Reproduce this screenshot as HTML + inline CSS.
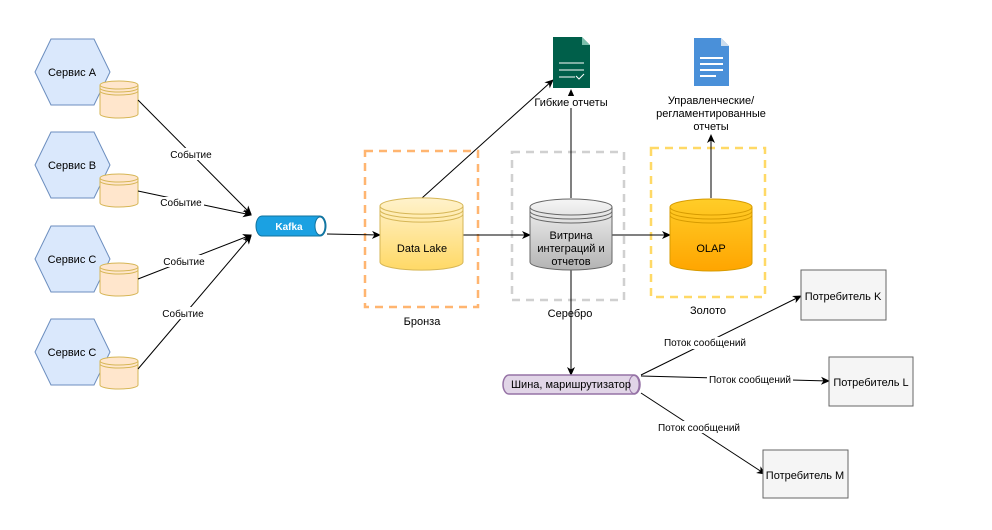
<!DOCTYPE html>
<html><head><meta charset="utf-8"><style>
body{margin:0;background:#fff}
svg{display:block;font-family:"Liberation Sans","Noto Sans CJK SC",sans-serif}
</style></head><body>
<svg width="992" height="530" viewBox="0 0 992 530" xmlns="http://www.w3.org/2000/svg">
<defs>
<marker id="ar" markerWidth="10" markerHeight="10" refX="8" refY="5" orient="auto" markerUnits="userSpaceOnUse"><path d="M0,1 L9,5 L0,9 L2.5,5 Z" fill="#000"/></marker>
<linearGradient id="gy" x1="0" y1="0" x2="0" y2="1"><stop offset="0" stop-color="#fff2cc"/><stop offset="1" stop-color="#ffd966"/></linearGradient>
<linearGradient id="gg" x1="0" y1="0" x2="0" y2="1"><stop offset="0" stop-color="#f5f5f5"/><stop offset="1" stop-color="#b3b3b3"/></linearGradient>
<linearGradient id="go" x1="0" y1="0" x2="0" y2="1"><stop offset="0" stop-color="#ffcd28"/><stop offset="1" stop-color="#ffa500"/></linearGradient>
</defs>
<g font-size="11" text-anchor="middle">
<!-- hexagons -->
<g fill="#dae8fc" stroke="#6c8ebf">
<polygon points="35,72 51,39 94,39 110,72 94,105 51,105"/>
<polygon points="35,165 51,132 94,132 110,165 94,198 51,198"/>
<polygon points="35,259 51,226 94,226 110,259 94,292 51,292"/>
<polygon points="35,352 51,319 94,319 110,352 94,385 51,385"/>
</g>
<text x="72" y="76">Сервис A</text><text x="72" y="169">Сервис B</text><text x="72" y="263">Сервис C</text><text x="72" y="356">Сервис C</text>
<!-- small cylinders -->
<g fill="#ffe6cc" stroke="#d6b656">
<path d="M100,85 a19,4 0 0 1 38,0 v29 a19,4 0 0 1 -38,0 Z"/><path d="M100,85 a19,4 0 0 0 38,0 M100,88 a19,4 0 0 0 38,0 M100,91 a19,4 0 0 0 38,0" fill="none"/>
<path d="M100,178 a19,4 0 0 1 38,0 v25 a19,4 0 0 1 -38,0 Z"/><path d="M100,178 a19,4 0 0 0 38,0 M100,181 a19,4 0 0 0 38,0" fill="none"/>
<path d="M100,267 a19,4 0 0 1 38,0 v25 a19,4 0 0 1 -38,0 Z"/><path d="M100,267 a19,4 0 0 0 38,0 M100,270 a19,4 0 0 0 38,0" fill="none"/>
<path d="M100,361 a19,4 0 0 1 38,0 v24 a19,4 0 0 1 -38,0 Z"/><path d="M100,361 a19,4 0 0 0 38,0 M100,364 a19,4 0 0 0 38,0" fill="none"/>
</g>
<!-- arrows to kafka -->
<g stroke="#000" stroke-width="1" fill="none" marker-end="url(#ar)">
<line x1="138" y1="100" x2="251" y2="214"/>
<line x1="138" y1="191" x2="251" y2="215"/>
<line x1="138" y1="279" x2="251" y2="235"/>
<line x1="138" y1="369" x2="251" y2="236"/>
</g>
<g font-size="10">
<rect x="168" y="148" width="46" height="12" fill="#fff"/><text x="191" y="158">Событие</text>
<rect x="158" y="197" width="46" height="12" fill="#fff"/><text x="181" y="206">Событие</text>
<rect x="161" y="255" width="46" height="12" fill="#fff"/><text x="184" y="265">Событие</text>
<rect x="160" y="307" width="46" height="12" fill="#fff"/><text x="183" y="317">Событие</text>
</g>
<!-- kafka -->
<path d="M262,216 h58 a6,10 0 0 1 0,20 h-58 a6,10 0 0 1 0,-20 Z" fill="#1ba1e2" stroke="#10739e"/>
<ellipse cx="320" cy="226" rx="5" ry="9" fill="#fff" stroke="#10739e"/>
<text x="289" y="230" fill="#fff" font-size="10" font-weight="bold">Kafka</text>
<!-- boxes -->
<g fill="none" stroke-width="2.5" stroke-dasharray="8,6">
<rect x="365" y="151" width="113" height="156" stroke="#ffb570"/>
<rect x="512" y="152" width="112" height="148" stroke="#d0d0d0"/>
<rect x="651" y="148" width="114" height="149" stroke="#ffd966"/>
</g>
<text x="422" y="325">Бронза</text><text x="570" y="317">Серебро</text><text x="708" y="314">Золото</text>
<!-- main arrows -->
<g stroke="#000" fill="none" marker-end="url(#ar)">
<line x1="327" y1="234" x2="380" y2="235"/>
<line x1="463" y1="235" x2="530" y2="235"/>
<line x1="612" y1="235" x2="670" y2="235"/>
<line x1="422" y1="198" x2="553" y2="80"/>
<line x1="571" y1="198" x2="571" y2="90"/>
<line x1="711" y1="198" x2="711" y2="135"/>
<line x1="571" y1="270" x2="571" y2="375"/>
<line x1="641" y1="375" x2="801" y2="296"/>
<line x1="641" y1="376" x2="829" y2="381"/>
<line x1="641" y1="393" x2="765" y2="474"/>
</g>
<!-- cylinders -->
<path d="M380,206 a41,8 0 0 1 83,0 v56 a41,8 0 0 1 -83,0 Z" fill="url(#gy)" stroke="#d6b656"/>
<path d="M380,206 a41,8 0 0 0 83,0 M380,210 a41,8 0 0 0 83,0 M380,214 a41,8 0 0 0 83,0" fill="none" stroke="#d6b656"/>
<text x="422" y="252" font-size="11">Data Lake</text>
<path d="M530,207 a41,8 0 0 1 82,0 v55 a41,8 0 0 1 -82,0 Z" fill="url(#gg)" stroke="#666"/>
<path d="M530,207 a41,8 0 0 0 82,0 M530,211 a41,8 0 0 0 82,0 M530,215 a41,8 0 0 0 82,0" fill="none" stroke="#666"/>
<text x="571" y="239">Витрина</text><text x="571" y="252">интеграций и</text><text x="571" y="265">отчетов</text>
<path d="M670,207 a41,8 0 0 1 82,0 v56 a41,8 0 0 1 -82,0 Z" fill="url(#go)" stroke="#d79b00"/>
<path d="M670,207 a41,8 0 0 0 82,0 M670,211 a41,8 0 0 0 82,0 M670,215 a41,8 0 0 0 82,0" fill="none" stroke="#d79b00"/>
<text x="711" y="252">OLAP</text>
<!-- docs -->
<path d="M553,37 h29 l8,8 v43 h-37 Z" fill="#005f4a"/>
<path d="M582,37 v8 h8" fill="#cfe" opacity="0.6"/>
<g stroke="#fff" stroke-width="1"><line x1="559" y1="63" x2="584" y2="63"/><line x1="559" y1="70" x2="584" y2="70"/><line x1="559" y1="77" x2="575" y2="77"/><polyline points="576,76 579,79 584,74" fill="none"/></g>
<rect x="540" y="96" width="60" height="12" fill="#fff"/>
<text x="571" y="106">Гибкие отчеты</text>
<path d="M694,38 h27 l8,8 v40 h-35 Z" fill="#4a90d9"/>
<path d="M721,38 v8 h8" fill="#cde"/>
<g stroke="#fff" stroke-width="2"><line x1="700" y1="58" x2="723" y2="58"/><line x1="700" y1="64" x2="723" y2="64"/><line x1="700" y1="70" x2="723" y2="70"/><line x1="700" y1="76" x2="716" y2="76"/></g>
<text x="711" y="104">Управленческие/</text><text x="711" y="117">регламентированные</text><text x="711" y="130">отчеты</text>
<!-- bus -->
<path d="M509,375 h125 a6,9.5 0 0 1 0,19 h-125 a6,9.5 0 0 1 0,-19 Z" fill="#e1d5e7" stroke="#9673a6" stroke-width="1.5"/>
<ellipse cx="634" cy="384.5" rx="5" ry="9" fill="none" stroke="#9673a6"/>
<text x="571" y="388">Шина, маришрутизатор</text>
<!-- consumers -->
<g fill="#f5f5f5" stroke="#666">
<rect x="801" y="270" width="85" height="50"/><rect x="829" y="357" width="84" height="49"/><rect x="763" y="450" width="85" height="48"/>
</g>
<text x="843" y="300">Потребитель K</text><text x="871" y="386">Потребитель L</text><text x="805" y="479">Потребитель M</text>
<g font-size="10">
<rect x="662" y="337" width="86" height="12" fill="#fff"/><text x="705" y="346">Поток сообщений</text>
<rect x="707" y="374" width="86" height="12" fill="#fff"/><text x="750" y="383">Поток сообщений</text>
<rect x="656" y="421" width="86" height="12" fill="#fff"/><text x="699" y="431">Поток сообщений</text>
</g>
</g>
</svg>
</body></html>
